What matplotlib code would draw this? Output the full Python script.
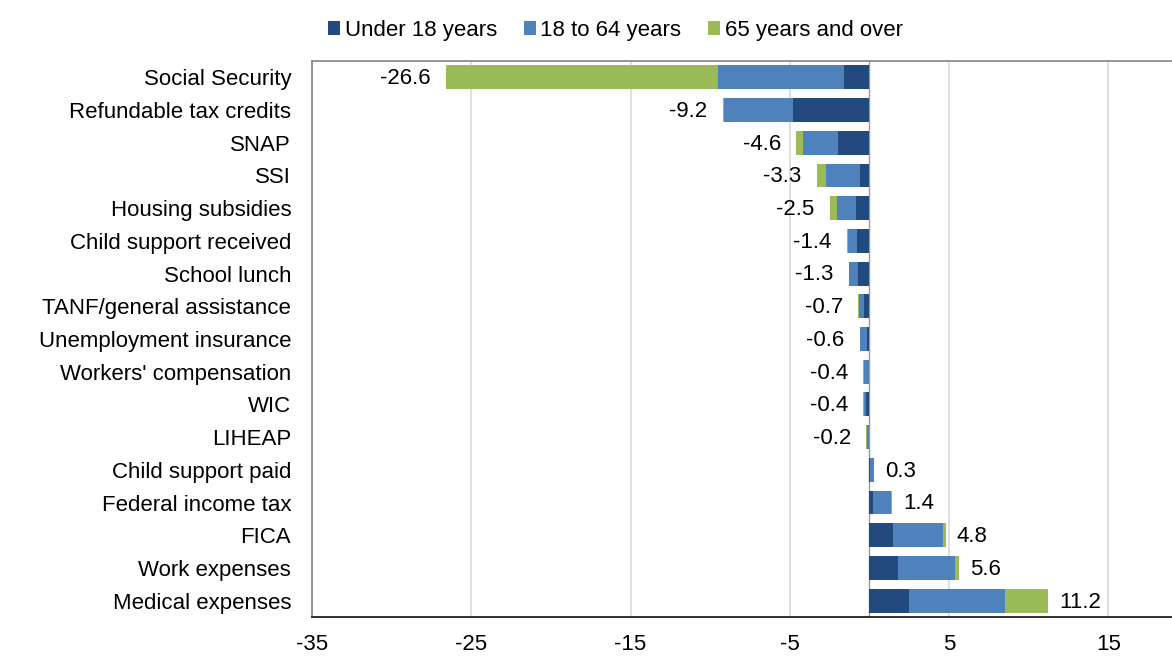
import numpy as np
import matplotlib
matplotlib.use("Agg")
import matplotlib.pyplot as plt

plt.rcParams['font.family'] = ['Liberation Sans', 'DejaVu Sans']
plt.rcParams['axes.unicode_minus'] = False

categories = ["Social Security", "Refundable tax credits", "SNAP", "SSI",
              "Housing subsidies", "Child support received", "School lunch",
              "TANF/general assistance", "Unemployment insurance",
              "Workers' compensation", "WIC", "LIHEAP", "Child support paid",
              "Federal income tax", "FICA", "Work expenses", "Medical expenses"]

under18 = [-1.6, -4.8, -2.0, -0.6, -0.85, -0.8, -0.7, -0.33, -0.15, -0.05,
           -0.2, -0.05, 0.05, 0.25, 1.5, 1.8, 2.5]
age18_64 = [-7.9, -4.3, -2.2, -2.1, -1.2, -0.55, -0.55, -0.3, -0.45, -0.3,
            -0.15, -0.1, 0.25, 1.08, 3.1, 3.6, 6.0]
age65 = [-17.1, -0.1, -0.4, -0.6, -0.45, -0.05, -0.05, -0.07, 0.0, -0.05,
         -0.05, -0.05, 0.0, 0.07, 0.2, 0.2, 2.7]
totals = [-26.6, -9.2, -4.6, -3.3, -2.5, -1.4, -1.3, -0.7, -0.6, -0.4,
          -0.4, -0.2, 0.3, 1.4, 4.8, 5.6, 11.2]

series = [("Under 18 years", under18, "#234A7F"),
          ("18 to 64 years", age18_64, "#4F81BD"),
          ("65 years and over", age65, "#9BBB59")]

fig = plt.figure(figsize=(11.72, 6.58), dpi=100)
ax = fig.add_axes([0.2662, 0.0623, 0.7338, 0.8450])

y = np.arange(len(categories))
left = np.zeros(len(categories))
for name, vals, col in series:
    vals = np.array(vals)
    ax.barh(y, vals, left=left, height=0.73, color=col, label=name,
            linewidth=0, zorder=3)
    left += vals

fs = 16
for yi, t in zip(y, totals):
    if t < 0:
        ax.annotate(f"{t:.1f}", (t, yi), xytext=(-11, -1), textcoords="offset points",
                    ha="right", va="center", fontsize=fs)
    else:
        ax.annotate(f"{t:.1f}", (t, yi), xytext=(8, -1), textcoords="offset points",
                    ha="left", va="center", fontsize=fs)

ax.set_xlim(-35, 19)
ax.set_ylim(len(categories) - 0.5, -0.5)
ax.set_xticks([-35, -25, -15, -5, 5, 15])
ax.set_yticks(y)
ax.set_yticklabels(categories, fontsize=fs)
ax.tick_params(axis="x", labelsize=fs, length=0, pad=12)
ax.tick_params(axis="y", length=0, pad=15)
ax.xaxis.grid(True, color="#D9D9D9", linewidth=1.2, zorder=0)
ax.axvline(0, color="#999999", linewidth=1.0, zorder=2)

for s in ["left", "top"]:
    ax.spines[s].set_color("#8C8C8C")
    ax.spines[s].set_linewidth(1.3)
ax.spines["right"].set_visible(False)
ax.spines["bottom"].set_color("#222222")
ax.spines["bottom"].set_linewidth(1.3)

fig.legend(loc="upper center", bbox_to_anchor=(0.525, 1.0), ncol=3, frameon=False,
           fontsize=fs, handlelength=0.55, handleheight=0.55, handletextpad=0.2,
           columnspacing=1.2)

fig.savefig("out.png", dpi=100)
